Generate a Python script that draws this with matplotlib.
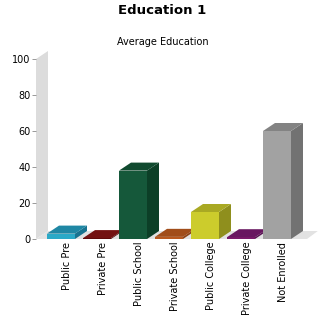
import matplotlib
matplotlib.use("Agg")
import matplotlib.pyplot as plt
from matplotlib.patches import Polygon
import numpy as np

categories = ["Public Pre", "Private Pre", "Public School", "Private School",
              "Public College", "Private College", "Not Enrolled"]
values = [3, 0.5, 38, 1.2, 15, 1.0, 60]
front_colors = ["#2aa9c7", "#5e0b0b", "#15583a", "#b8591f", "#cccc2c", "#7a1a6b", "#a2a2a2"]
top_colors = ["#1f87a4", "#731212", "#104a2f", "#a14d1a", "#a9a923", "#681660", "#838383"]
side_colors = ["#187390", "#4c0808", "#0c3f27", "#8c4216", "#8f8f1d", "#571251", "#727272"]
yticks = [0, 20, 40, 60, 80, 100]

fig = plt.figure(figsize=(3.25, 3.25), dpi=100)
ax = fig.add_axes([36/325, (325-239)/325, 271/325, 180/325])

DX = 12/36.0   # depth in category units
DY = 8/1.8     # depth in value units
x_left = -31/36.0
x_right = x_left + 271/36.0
ax.set_xlim(x_left, x_right)
ax.set_ylim(0, 100)

# back wall
wall = Polygon([(x_left, 0), (x_left + DX, DY), (x_left + DX, 100 + DY), (x_left, 100)],
               closed=True, facecolor="#dcdcdc", edgecolor="none", clip_on=False, zorder=1)
ax.add_patch(wall)
# floor
floor = Polygon([(x_left, 0), (x_left + DX, DY), (x_right + DX*0.9, DY), (x_right, 0)],
                closed=True, facecolor="#e2e2e2", edgecolor="none", clip_on=False, zorder=1)
ax.add_patch(floor)

for i, (v, fc, tc, sc) in enumerate(zip(values, front_colors, top_colors, side_colors)):
    x0 = i - 20/36.0
    x1 = i + 8/36.0
    front = Polygon([(x0, 0), (x1, 0), (x1, v), (x0, v)], closed=True,
                    facecolor=fc, edgecolor="none", clip_on=False, zorder=3)
    top = Polygon([(x0, v), (x1, v), (x1 + DX, v + DY), (x0 + DX, v + DY)], closed=True,
                  facecolor=tc, edgecolor="none", clip_on=False, zorder=3)
    side = Polygon([(x1, 0), (x1, v), (x1 + DX, v + DY), (x1 + DX, DY)], closed=True,
                   facecolor=sc, edgecolor="none", clip_on=False, zorder=2)
    ax.add_patch(side)
    ax.add_patch(front)
    ax.add_patch(top)

for s in ax.spines.values():
    s.set_visible(False)
ax.set_yticks(yticks)
ax.set_yticklabels([str(t) for t in yticks], fontsize=7)
ax.tick_params(axis="y", length=3, width=0.6, color="#888888", pad=1)
ax.set_xticks(range(len(categories)))
ax.set_xticklabels(categories, rotation=90, fontsize=7, va="top", ha="center")
ax.tick_params(axis="x", length=0, pad=2)

fig.text(0.5, 1 - 10/325, "Education 1", ha="center", va="center", fontsize=9.5, fontweight="bold")
fig.text(0.5, 1 - 42/325, "Average Education", ha="center", va="center", fontsize=7)

fig.savefig("out.png", dpi=100)
